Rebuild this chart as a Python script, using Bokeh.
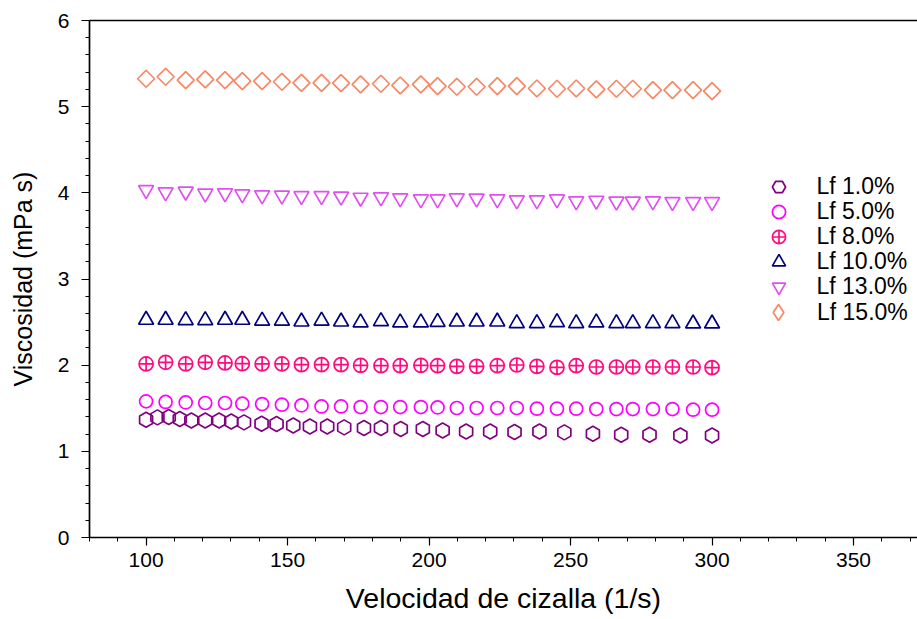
import numpy as np
from bokeh.plotting import figure
from bokeh.models import Range1d, LinearAxis, SingleIntervalTicker, FixedTicker, Legend, LegendItem
from bokeh.embed import file_html
from bokeh.resources import INLINE

# shear rate (1/s)
x_lf1 = [100, 104, 108, 111.9, 116, 120.9, 125.8, 130.1, 134.6, 140.8, 146.1, 152, 157.9, 164, 170,
         177, 183, 190, 197.8, 204.8, 213.1, 221.6, 230.2, 239, 247.8, 257.9, 267.9, 277.9, 288.8, 300]
x_other = [100, 106.9, 114, 120.9, 127.9, 134, 141, 148, 154.9, 162, 168.9, 175.8, 183, 189.8, 197.1,
           203, 209.8, 216.8, 224.1, 231, 238.1, 245.2, 252, 259.1, 266.2, 272, 279.1, 286, 293.3, 300]

# viscosity (mPa s)
lf1 = [1.367, 1.394, 1.398, 1.375, 1.359, 1.359, 1.359, 1.347, 1.336, 1.321, 1.317, 1.301, 1.289, 1.289, 1.278,
       1.271, 1.271, 1.259, 1.259, 1.243, 1.231, 1.231, 1.224, 1.231, 1.220, 1.204, 1.193, 1.193, 1.185, 1.185]
lf5 = [1.580, 1.573, 1.568, 1.561, 1.561, 1.553, 1.549, 1.541, 1.533, 1.521, 1.521, 1.514, 1.514, 1.514, 1.514,
       1.510, 1.503, 1.503, 1.503, 1.503, 1.495, 1.495, 1.495, 1.491, 1.491, 1.491, 1.491, 1.491, 1.483, 1.483]
lf8 = [2.014, 2.033, 2.014, 2.033, 2.026, 2.017, 2.014, 2.014, 2.006, 2.006, 2.006, 1.998, 1.994, 1.994, 1.998,
       1.994, 1.986, 1.986, 1.994, 2.002, 1.986, 1.974, 1.994, 1.979, 1.979, 1.979, 1.979, 1.979, 1.979, 1.971]
lf10 = [2.525, 2.525, 2.520, 2.520, 2.525, 2.525, 2.515, 2.515, 2.505, 2.515, 2.505, 2.495, 2.510, 2.495, 2.495,
        2.500, 2.505, 2.505, 2.505, 2.486, 2.486, 2.498, 2.486, 2.494, 2.486, 2.486, 2.486, 2.486, 2.482, 2.482]
lf13 = [4.034, 4.007, 4.015, 3.992, 3.995, 3.984, 3.972, 3.969, 3.964, 3.964, 3.957, 3.945, 3.949, 3.937, 3.926,
        3.926, 3.937, 3.934, 3.926, 3.914, 3.914, 3.926, 3.902, 3.910, 3.899, 3.899, 3.902, 3.894, 3.894, 3.894]
lf15 = [5.324, 5.347, 5.308, 5.316, 5.308, 5.296, 5.296, 5.289, 5.277, 5.277, 5.273, 5.258, 5.266, 5.246, 5.258,
        5.238, 5.231, 5.231, 5.238, 5.238, 5.211, 5.208, 5.211, 5.200, 5.208, 5.208, 5.192, 5.192, 5.192, 5.180]

labels = ["Lf 1.0%", "Lf 5.0%", "Lf 8.0%", "Lf 10.0%", "Lf 13.0%", "Lf 15.0%"]
x_ticks_interval = 50
y_ticks_interval = 1

FONT = "Liberation Sans"

p = figure(width=917, height=619, output_backend="svg", toolbar_location=None,
           x_range=Range1d(80, 372.6), y_range=Range1d(0, 6),
           min_border_left=89, min_border_right=0, min_border_top=20, min_border_bottom=82,
           background_fill_color="white", border_fill_color="white")
p.outline_line_color = None
p.xgrid.visible = False
p.ygrid.visible = False

series = [
    (x_lf1, lf1, dict(marker="hex", size=15, angle=np.pi / 2, line_color="#800080"), None, 33),
    (x_other, lf5, dict(marker="circle", size=13, line_color="#FF00FF"), None, 33),
    (x_other, lf8, dict(marker="circle_cross", size=14, line_color="#FF0A80"), None, 33),
    (x_other, lf10, dict(marker="triangle", size=15, line_color="#000080"), None, 33),
    (x_other, lf13, dict(marker="inverted_triangle", size=15, line_color="#E050F0"), None, 33),
    (x_other, lf15, dict(marker="square", size=12, angle=np.pi / 4, line_color="#FA8764"), "diamond", 40),
]

# one small legend per entry, stacked 25 px apart
frame_bottom = 619 - 82
for i, (xs, ys, kw, legend_marker, g) in enumerate(series):
    r = p.scatter(xs, ys, fill_color=None, line_width=1.7, **kw)
    if legend_marker is not None:
        # legend glyphs ignore marker angle: use a hidden twin renderer drawn as a diamond
        leg_r = p.scatter(xs, ys, marker=legend_marker, fill_color=None, line_width=1.7,
                          line_color=kw["line_color"], visible=False)
    else:
        leg_r = r
    center_y = 186 + 25.2 * i
    center_x = 778
    leg = Legend(items=[LegendItem(label=labels[i], renderers=[leg_r])],
                 location=(center_x - g / 2 - 89, frame_bottom - (center_y + g / 2)),
                 glyph_width=g, glyph_height=g, label_standoff=int(round(817 - (center_x + g / 2))),
                 padding=0, margin=0, border_line_color=None, background_fill_alpha=0,
                 inactive_fill_alpha=0, click_policy="none",
                 label_text_font=FONT, label_text_font_size="23px", label_text_color="black",
                 label_height=20)
    p.add_layout(leg, "center")

for ax, interval in ((p.xaxis[0], x_ticks_interval), (p.yaxis[0], y_ticks_interval)):
    ax.ticker = SingleIntervalTicker(interval=interval, num_minor_ticks=5)
    ax.axis_line_width = 1.7
    ax.axis_line_color = "black"
    ax.major_tick_line_color = "black"
    ax.minor_tick_line_color = "black"
    ax.major_tick_line_width = 1.2
    ax.minor_tick_line_width = 1.0
    ax.major_tick_in = 0
    ax.minor_tick_in = 0
    ax.major_tick_out = 8
    ax.minor_tick_out = 4
    ax.major_label_text_font = FONT
    ax.major_label_text_font_size = "21px"
    ax.major_label_text_color = "black"
    ax.axis_label_text_font = FONT
    ax.axis_label_text_font_style = "normal"
    ax.axis_label_text_color = "black"

p.xaxis.axis_label = "Velocidad de cizalla (1/s)"
p.xaxis.axis_label_text_font_size = "28.5px"
p.xaxis.major_label_standoff = 7
p.xaxis.axis_label_standoff = 12
p.yaxis.axis_label = "Viscosidad (mPa s)"
p.yaxis.axis_label_text_font_size = "25px"
p.yaxis.major_label_standoff = 12
p.yaxis.axis_label_standoff = 18

top = LinearAxis(ticker=FixedTicker(ticks=[]), axis_line_width=1.7, axis_line_color="black",
                 major_label_text_font_size="0px", major_tick_line_color=None, minor_tick_line_color=None)
p.add_layout(top, "above")

open("out.html", "w").write(file_html(p, INLINE))
